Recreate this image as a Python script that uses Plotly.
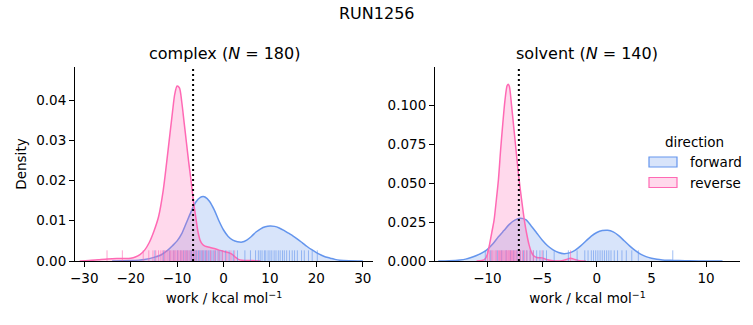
import plotly.graph_objects as go

# ---------------- data ----------------
# complex, reverse KDE
cx_rev_x = [-31, -29, -27, -25, -23, -21, -20, -19, -18, -17, -16, -15, -14, -13, -12, -11, -10.5, -10, -9.5,
            -9, -8.5, -8, -7.5, -7, -6.5, -6, -5.5, -5, -4.5, -4, -3, -2, -1, 0, 1, 1.8, 2.5, 3.2, 4, 6, 8]
cx_rev_y = [0.0, 0.0001, 0.0003, 0.0005, 0.0006, 0.0006, 0.0007, 0.0010, 0.0016, 0.0027, 0.0046, 0.0074,
            0.0110, 0.0175, 0.0270, 0.0370, 0.0415, 0.0435, 0.0430, 0.0395, 0.0345, 0.0295, 0.0245, 0.0200,
            0.0150, 0.0110, 0.0072, 0.0050, 0.0041, 0.0037, 0.0034, 0.0031, 0.0027, 0.0024, 0.0021, 0.0017,
            0.0010, 0.0004, 0.0002, 0.0001, 0.0]
# complex, forward KDE
cx_fwd_x = [-24, -20, -17, -15, -13.5, -12, -11, -10, -9, -8, -7, -6, -5, -4.4, -4, -3, -2, -1, 0, 1, 2, 3, 4,
            5, 6, 7, 8, 9, 10, 11, 12, 13, 14, 15, 16, 17, 18, 19, 20, 21, 22, 23, 24, 25, 27, 30]
cx_fwd_y = [0.0, 0.0001, 0.0004, 0.0009, 0.0015, 0.0027, 0.0038, 0.0050, 0.0068, 0.0095, 0.0122, 0.0146,
            0.0158, 0.0160, 0.0159, 0.0148, 0.0127, 0.0100, 0.0077, 0.0061, 0.0052, 0.0048, 0.0047, 0.0052,
            0.0061, 0.0072, 0.0080, 0.0085, 0.0087, 0.0086, 0.0082, 0.0076, 0.0069, 0.0062, 0.0054, 0.0045,
            0.0036, 0.0028, 0.0021, 0.0015, 0.0010, 0.0007, 0.0004, 0.0002, 0.00005, 0.0]
# solvent, reverse KDE
sv_rev_x = [-11.0, -10.5, -10.2, -10.0, -9.8, -9.6, -9.4, -9.2, -9.0, -8.8, -8.6, -8.4, -8.2, -8.1, -8.0,
            -7.8, -7.6, -7.4, -7.2, -7.0, -6.8, -6.6, -6.4, -6.2, -6.0, -5.8, -5.5, -5.0, -4.6, -4.0, -3.2,
            -2.8, -2.4, -2.0, -1.6, -1.0]
sv_rev_y = [0.0, 0.0003, 0.0015, 0.0045, 0.0110, 0.0185, 0.0260, 0.0385, 0.0520, 0.0710, 0.0880, 0.1030,
            0.1125, 0.1133, 0.1120, 0.1000, 0.0860, 0.0720, 0.0580, 0.0460, 0.0350, 0.0250, 0.0170, 0.0105,
            0.0060, 0.0035, 0.0022, 0.0020, 0.0010, 0.0002, 0.0002, 0.0010, 0.0017, 0.0010, 0.0002, 0.0]
# solvent, forward KDE
sv_fwd_x = [-14.5, -13.5, -12.5, -12, -11.5, -11, -10.5, -10, -9.5, -9, -8.5, -8, -7.5, -7, -6.5, -6, -5.5,
            -5, -4.5, -4, -3.5, -3, -2.5, -2, -1.5, -1, -0.5, 0, 0.5, 1, 1.5, 2, 2.5, 3, 3.5, 4, 4.5, 5, 5.5,
            6, 6.5, 7, 7.5, 8.5, 10, 11.5]
sv_fwd_y = [0.0, 0.0002, 0.0007, 0.0012, 0.0022, 0.0035, 0.0052, 0.0075, 0.0110, 0.0155, 0.0195, 0.0235,
            0.0262, 0.0274, 0.0265, 0.0225, 0.0180, 0.0135, 0.0098, 0.0072, 0.0055, 0.0047, 0.0052, 0.0068,
            0.0095, 0.0128, 0.0160, 0.0183, 0.0195, 0.0197, 0.0187, 0.0163, 0.0130, 0.0097, 0.0068, 0.0044,
            0.0028, 0.0018, 0.0011, 0.0007, 0.0005, 0.0004, 0.0003, 0.0001, 0.00003, 0.0]

# rug samples (work values)
cx_fwd_rug = [-14.8, -12.9, -11.6, -10.7, -9.9, -9.2, -8.6, -8.1, -7.7, -7.2, -6.9, -6.5, -6.1, -5.8, -5.4,
              -5.1, -4.8, -4.5, -4.2, -3.9, -3.6, -3.2, -2.9, -2.5, -2.1, -1.7, -1.2, -0.8, -0.3, 0.4, 1.2,
              2.1, 3.0, 4.6, 5.8, 6.9, 7.5, 7.9, 8.3, 8.8, 9.1, 9.6, 10.0, 10.4, 10.9, 11.3, 11.8, 12.2, 12.7,
              13.1, 13.6, 14.2, 14.8, 15.3, 15.9, 16.8, 17.4, 18.3, 19.1, 20.2]
cx_rev_rug = [-25.1, -21.8, -17.3, -16.1, -15.2, -14.6, -14.0, -13.5, -13.1, -12.7, -12.4, -12.0, -11.7,
              -11.4, -11.1, -10.8, -10.5, -10.3, -10.0, -9.8, -9.6, -9.3, -9.1, -8.8, -8.5, -8.3, -8.0, -7.7,
              -7.4, -7.0, -6.6, -6.2, -5.7, -5.1, -4.4, -3.6, -2.8, -1.9, -1.0, -0.2, 0.7, 1.6, 2.4]
sv_fwd_rug = [-10.2, -9.7, -9.1, -8.7, -8.3, -7.9, -7.6, -7.3, -7.0, -6.7, -6.4, -6.1, -5.8, -5.5, -5.2,
              -4.9, -4.6, -3.9, -2.6, -1.8, -1.1, -0.8, -0.5, -0.3, -0.1, 0.1, 0.3, 0.5, 0.7, 0.9, 1.1, 1.3,
              1.6, 1.9, 2.3, 2.7, 3.2, 3.8, 6.95]
sv_rev_rug = [-10.0, -9.8, -9.6, -9.5, -9.3, -9.2, -9.0, -8.9, -8.8, -8.7, -8.6, -8.5, -8.4, -8.3, -8.25,
              -8.2, -8.1, -8.05, -8.0, -7.9, -7.8, -7.7, -7.6, -7.5, -7.4, -7.3, -7.1, -7.0, -6.8, -6.6,
              -6.4, -6.1, -5.8, -5.0, -2.4]

# free-energy estimates (dotted lines)
cx_dg = -6.56
sv_dg = -7.13

cx_xticks = [-30, -20, -10, 0, 10, 20, 30]
cx_xtext = ["\u221230", "\u221220", "\u221210", "0", "10", "20", "30"]
cx_yticks = [0.0, 0.01, 0.02, 0.03, 0.04]
cx_ytext = ["0.00", "0.01", "0.02", "0.03", "0.04"]
sv_xticks = [-10, -5, 0, 5, 10]
sv_xtext = ["\u221210", "\u22125", "0", "5", "10"]
sv_yticks = [0.0, 0.025, 0.05, 0.075, 0.1]
sv_ytext = ["0.000", "0.025", "0.050", "0.075", "0.100"]

legend_labels = ["forward", "reverse"]

# ---------------- styling ----------------
W, H = 753, 325
FWD = "#6495ED"
REV = "#FF69B4"
FWD_FILL = "rgba(100,149,237,0.25)"
REV_FILL = "rgba(255,105,180,0.25)"
RUG_H = 0.055
FONT = "DejaVu Sans"

def px_x(p):
    return p / W

def px_y(p):
    return 1 - p / H

fig = go.Figure()

def kde(x, y, color, fill, name, xa, ya):
    fig.add_trace(go.Scatter(x=x, y=y, mode="lines", line=dict(color=color, width=1.5, shape="spline", smoothing=0.8),
                             fill="tozeroy", fillcolor=fill, name=name, showlegend=False,
                             xaxis=xa, yaxis=ya, hoverinfo="skip"))

def rug(vals, color, xa, ya):
    xs, ys = [], []
    for v in vals:
        xs += [v, v, None]
        ys += [0, RUG_H, None]
    fig.add_trace(go.Scatter(x=xs, y=ys, mode="lines", line=dict(color=color, width=1), opacity=0.6,
                             showlegend=False, xaxis=xa, yaxis=ya, hoverinfo="skip"))

kde(cx_fwd_x, cx_fwd_y, FWD, FWD_FILL, "forward", "x", "y")
kde(cx_rev_x, cx_rev_y, REV, REV_FILL, "reverse", "x", "y")
kde(sv_fwd_x, sv_fwd_y, FWD, FWD_FILL, "forward", "x2", "y2")
kde(sv_rev_x, sv_rev_y, REV, REV_FILL, "reverse", "x2", "y2")
rug(cx_fwd_rug, FWD, "x", "y3")
rug(cx_rev_rug, REV, "x", "y3")
rug(sv_fwd_rug, FWD, "x2", "y4")
rug(sv_rev_rug, REV, "x2", "y4")

ydom = [px_y(261), px_y(67)]
axis_common = dict(showline=True, linecolor="black", linewidth=1.1, ticks="outside", ticklen=5, tickwidth=1.1,
                   tickcolor="black", showgrid=False, zeroline=False, automargin=False,
                   tickfont=dict(family=FONT, size=13.5, color="black"))
title_font = dict(family=FONT, size=13.5, color="black")

fig.update_layout(
    width=W, height=H, margin=dict(l=0, r=0, t=0, b=0),
    paper_bgcolor="white", plot_bgcolor="rgba(0,0,0,0)",
    font=dict(family=FONT, color="black"),
    showlegend=False,
    xaxis=dict(domain=[px_x(75), px_x(373)], range=[-32, 32.2], anchor="y", tickmode="array",
               tickvals=cx_xticks, ticktext=cx_xtext,
               title=dict(text="work / kcal mol<sup>\u22121</sup>", font=title_font, standoff=8), **axis_common),
    yaxis=dict(domain=ydom, range=[0, 0.0482], anchor="x", tickmode="array", tickvals=cx_yticks,
               ticktext=cx_ytext, title=dict(text="Density", font=title_font, standoff=6), **axis_common),
    xaxis2=dict(domain=[px_x(435), px_x(740)], range=[-14.8, 13.1], anchor="y2", tickmode="array",
                tickvals=sv_xticks, ticktext=sv_xtext,
                title=dict(text="work / kcal mol<sup>\u22121</sup>", font=title_font, standoff=8), **axis_common),
    yaxis2=dict(domain=ydom, range=[0, 0.1244], anchor="x2", tickmode="array", tickvals=sv_yticks,
                ticktext=sv_ytext, **axis_common),
    yaxis3=dict(overlaying="y", range=[0, 1], visible=False, anchor="x"),
    yaxis4=dict(overlaying="y2", range=[0, 1], visible=False, anchor="x2"),
)

for xr, dg in (("x", cx_dg), ("x2", sv_dg)):
    fig.add_shape(type="line", xref=xr, yref=("y domain" if xr == "x" else "y2 domain"), x0=dg, x1=dg, y0=0, y1=1,
                  line=dict(color="black", width=2, dash="2px,3px"))

# manual legend (matplotlib-style patches)
fig.add_annotation(text="direction", x=px_x(694), y=px_y(142), xref="paper", yref="paper", showarrow=False,
                   font=dict(family=FONT, size=13.5, color="black"), xanchor="center", yanchor="middle")
for i, (lab, col, fc) in enumerate(zip(legend_labels, [FWD, REV], [FWD_FILL, REV_FILL])):
    yc = 162 + 20.5 * i
    fig.add_shape(type="rect", xref="paper", yref="paper", x0=px_x(649), x1=px_x(677),
                  y0=px_y(yc + 5), y1=px_y(yc - 5), line=dict(color=col, width=1.2), fillcolor=fc)
    fig.add_annotation(text=lab, x=px_x(688), y=px_y(yc), xref="paper", yref="paper", showarrow=False,
                       font=dict(family=FONT, size=13.5, color="black"), xanchor="left", yanchor="middle")

fig.add_annotation(text="RUN1256", x=px_x(377), y=px_y(13), xref="paper", yref="paper", showarrow=False,
                   font=dict(family=FONT, size=16, color="black"), xanchor="center", yanchor="middle")
fig.add_annotation(text="complex (<i>N</i> = 180)", x=px_x(224), y=px_y(54), xref="paper", yref="paper",
                   showarrow=False, font=dict(family=FONT, size=16, color="black"), xanchor="center", yanchor="middle")
fig.add_annotation(text="solvent (<i>N</i> = 140)", x=px_x(587), y=px_y(54), xref="paper", yref="paper",
                   showarrow=False, font=dict(family=FONT, size=16, color="black"), xanchor="center", yanchor="middle")

fig.write_html("out.html")
